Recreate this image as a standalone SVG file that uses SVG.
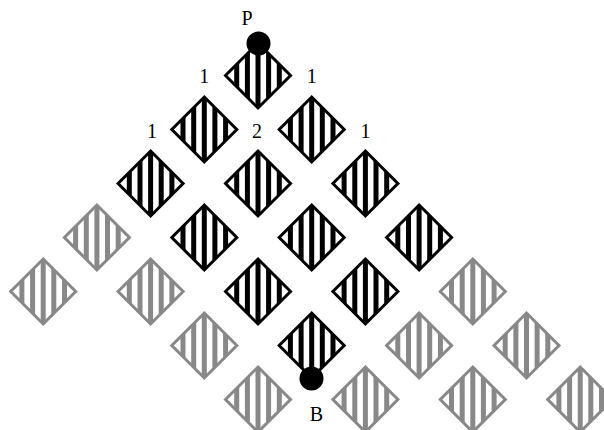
<svg xmlns="http://www.w3.org/2000/svg" xmlns:xlink="http://www.w3.org/1999/xlink" width="604" height="430" viewBox="0 0 604 430">
<style>
.lbl{font-family:"Liberation Serif","Times New Roman",serif;font-size:20px;fill:#000;text-anchor:middle}
.ob{fill:none;stroke:#000;stroke-width:3;stroke-linejoin:miter}
.og{fill:none;stroke:#888;stroke-width:3;stroke-linejoin:miter}
.dot{fill:#000}
</style>
<defs>
<clipPath id="dc"><polygon points="0,-32.5 32.5,0 0,32.5 -32.5,0"/></clipPath>
<g id="stripes" clip-path="url(#dc)">
<rect x="-23.8" y="-33" width="5" height="66"/>
<rect x="-13.1" y="-33" width="5" height="66"/>
<rect x="-2.5" y="-33" width="5" height="66"/>
<rect x="8.1" y="-33" width="5" height="66"/>
<rect x="18.8" y="-33" width="5" height="66"/>
</g>
<g id="blk"><use href="#stripes" fill="#000"/><polygon class="ob" points="0,-32.5 32.5,0 0,32.5 -32.5,0"/></g>
<g id="gry"><use href="#stripes" fill="#888"/><polygon class="og" points="0,-32.5 32.5,0 0,32.5 -32.5,0"/></g>
</defs>
<g id="connectors"></g>
<!-- row 0 -->
<g id="b0-0"><use href="#blk" x="258" y="75.5"/></g>
<!-- row 1 -->
<g id="b1-0"><use href="#blk" x="204.3" y="129.5"/></g>
<g id="b1-1"><use href="#blk" x="311.7" y="129.5"/></g>
<!-- row 2 -->
<g id="b2-0"><use href="#blk" x="150.6" y="183.5"/></g>
<g id="b2-1"><use href="#blk" x="258" y="183.5"/></g>
<g id="b2-2"><use href="#blk" x="365.4" y="183.5"/></g>
<!-- row 3 -->
<g id="g3-0"><use href="#gry" x="96.9" y="237.5"/></g>
<g id="b3-1"><use href="#blk" x="204.3" y="237.5"/></g>
<g id="b3-2"><use href="#blk" x="311.7" y="237.5"/></g>
<g id="b3-3"><use href="#blk" x="419.1" y="237.5"/></g>
<!-- row 4 -->
<g id="g4-0"><use href="#gry" x="43.2" y="291.5"/></g>
<g id="g4-1"><use href="#gry" x="150.6" y="291.5"/></g>
<g id="b4-2"><use href="#blk" x="258" y="291.5"/></g>
<g id="b4-3"><use href="#blk" x="365.4" y="291.5"/></g>
<g id="g4-4"><use href="#gry" x="472.8" y="291.5"/></g>
<!-- row 5 -->
<g id="g5-0"><use href="#gry" x="204.3" y="345.5"/></g>
<g id="b5-1"><use href="#blk" x="311.7" y="345.5"/></g>
<g id="g5-2"><use href="#gry" x="419.1" y="345.5"/></g>
<g id="g5-3"><use href="#gry" x="526.5" y="345.5"/></g>
<!-- row 6 -->
<g id="g6-0"><use href="#gry" x="258" y="399.5"/></g>
<g id="g6-1"><use href="#gry" x="365.4" y="399.5"/></g>
<g id="g6-2"><use href="#gry" x="472.8" y="399.5"/></g>
<g id="g6-3"><use href="#gry" x="580.2" y="399.5"/></g>
<!-- points -->
<g id="P"><circle class="dot" cx="258.5" cy="43.5" r="12"/><text class="lbl" x="247" y="25">P</text></g>
<g id="B"><circle class="dot" cx="311.5" cy="378.5" r="12"/><text class="lbl" x="316.5" y="421">B</text></g>
<!-- counts -->
<g id="labels">
<text class="lbl" x="204.3" y="83">1</text>
<text class="lbl" x="311.7" y="83">1</text>
<text class="lbl" x="152" y="138">1</text>
<text class="lbl" x="257" y="138">2</text>
<text class="lbl" x="365.4" y="138">1</text>
</g>
</svg>
